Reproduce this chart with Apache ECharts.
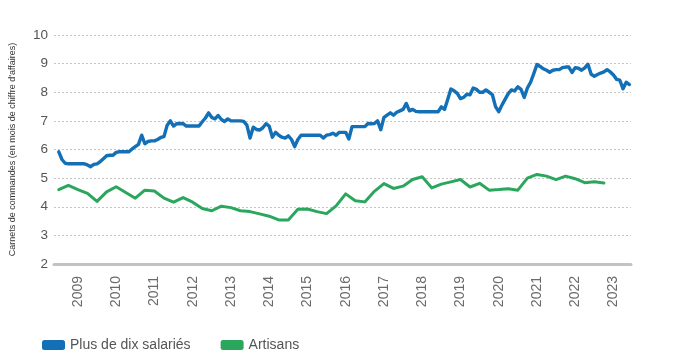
<!DOCTYPE html>
<html>
<head>
<meta charset="utf-8">
<script src="https://cdn.jsdelivr.net/npm/echarts@6/dist/echarts.min.js"></script>
<style>
html,body{margin:0;padding:0;background:#fff;}
#chart{width:686px;height:361px;}
</style>
</head>
<body>
<div id="chart"></div>
<script>
// Monthly categories: one blank slot (2008-06), then 2008-07 .. 2023-06
const startYear = 2008, startMonth = 6, monthCount = 181;
const yearTicks = ['2009','2010','2011','2012','2013','2014','2015','2016','2017','2018','2019','2020','2021','2022','2023'];
const seriesNames = ['Plus de dix salariés', 'Artisans'];
const yTicks = [2, 3, 4, 5, 6, 7, 8, 9, 10];

// Plus de dix salariés — monthly, from 2008-07
const plusDeDix = [
5.92,5.65,5.52,5.5,5.5,5.5,5.5,5.5,5.5,5.46,
5.4,5.48,5.5,5.58,5.68,5.78,5.8,5.8,5.9,5.92,
5.92,5.92,5.92,6.02,6.1,6.18,6.5,6.2,6.28,6.3,
6.3,6.35,6.42,6.45,6.85,7.0,6.82,6.9,6.91,6.9,
6.82,6.82,6.82,6.82,6.82,6.97,7.1,7.28,7.12,7.07,
7.19,7.05,6.98,7.07,7.0,7.0,7.0,7.0,6.98,6.85,
6.4,6.78,6.7,6.68,6.76,6.9,6.82,6.43,6.6,6.5,
6.43,6.4,6.48,6.35,6.1,6.35,6.5,6.5,6.5,6.5,
6.5,6.5,6.5,6.4,6.5,6.52,6.57,6.5,6.6,6.6,
6.6,6.37,6.8,6.8,6.8,6.8,6.8,6.91,6.9,6.91,
7.0,6.69,7.12,7.2,7.28,7.2,7.3,7.35,7.4,7.61,
7.35,7.4,7.33,7.32,7.32,7.32,7.32,7.32,7.32,7.32,
7.49,7.4,7.75,8.11,8.05,7.96,7.78,7.82,7.93,7.91,
8.15,8.1,8.0,8.0,8.08,8.0,7.92,7.5,7.32,7.55,
7.75,7.95,8.08,8.05,8.19,8.1,7.82,8.15,8.35,8.65,
8.97,8.9,8.82,8.77,8.7,8.77,8.79,8.79,8.86,8.88,
8.88,8.69,8.86,8.84,8.77,8.85,8.98,8.63,8.56,8.62,
8.67,8.71,8.79,8.71,8.6,8.45,8.42,8.12,8.35,8.27
];

// Artisans — quarterly, from 2008-07
const artisans = [
4.6,4.75,4.6,4.47,4.19,4.52,4.7,4.5,4.3,4.58,
4.55,4.3,4.16,4.32,4.16,3.94,3.86,4.02,3.97,3.86,
3.83,3.75,3.67,3.54,3.54,3.91,3.92,3.83,3.76,4.03,
4.45,4.21,4.17,4.54,4.81,4.64,4.72,4.95,5.05,4.66,
4.79,4.87,4.95,4.69,4.82,4.58,4.6,4.63,4.58,5.0,
5.13,5.07,4.95,5.07,4.98,4.84,4.87,4.83
];

const months = [];
for (let i = 0; i < monthCount; i++) {
  const t = (startYear * 12 + (startMonth - 1)) + i;
  const y = Math.floor(t / 12), m = t % 12 + 1;
  months.push(y + '-' + (m < 10 ? '0' + m : m));
}
const blueData = plusDeDix.map((v, i) => [months[i + 1], v]);
const greenData = artisans.map((v, i) => [months[1 + i * 3], v]);

const chart = echarts.init(document.getElementById('chart'), null, {renderer: 'canvas'});
chart.setOption({
  animation: false,
  backgroundColor: '#ffffff',
  textStyle: {fontFamily: '"Liberation Sans", Arial, sans-serif'},
  grid: {left: 54, right: 55, top: 35, bottom: 97, containLabel: false},
  legend: {
    data: seriesNames,
    left: 37, top: 333,
    icon: 'roundRect',
    itemWidth: 23, itemHeight: 10, itemGap: 30,
    textStyle: {fontSize: 14, color: '#555'}
  },
  xAxis: {
    type: 'category',
    data: months,
    boundaryGap: true,
    axisLine: {show: true, lineStyle: {color: '#c2c2c2', width: 3}},
    axisTick: {show: false},
    splitLine: {show: false},
    axisLabel: {
      rotate: 90,
      margin: 12,
      fontSize: 14,
      color: '#6a6a6a',
      interval: (idx, val) => yearTicks.includes(val.slice(0,4)) && val.slice(5) === '01',
      formatter: val => val.slice(0, 4)
    }
  },
  yAxis: {
    type: 'value',
    min: yTicks[0], max: yTicks[yTicks.length - 1], interval: 1,
    name: "Carnets de commandes (en mois de chiffre d'affaires)",
    nameLocation: 'middle',
    nameRotate: 90,
    nameGap: 37,
    nameTextStyle: {fontSize: 9, color: '#333'},
    axisLine: {show: false},
    axisTick: {show: false},
    axisLabel: {fontSize: 13.5, color: '#555', margin: 6},
    splitLine: {show: true, lineStyle: {color: '#c4c4c4', type: [2, 2], width: 1}}
  },
  series: [
    {
      name: seriesNames[0], type: 'line', data: blueData,
      showSymbol: false, symbol: 'none',
      itemStyle: {color: '#1370b6'},
      lineStyle: {color: '#1370b6', width: 3.4, join: 'round', cap: 'round'},
      z: 3
    },
    {
      name: seriesNames[1], type: 'line', data: greenData,
      showSymbol: false, symbol: 'none',
      itemStyle: {color: '#2aa65d'},
      lineStyle: {color: '#2aa65d', width: 3, join: 'round', cap: 'round'},
      z: 2
    }
  ]
});
</script>
</body>
</html>
